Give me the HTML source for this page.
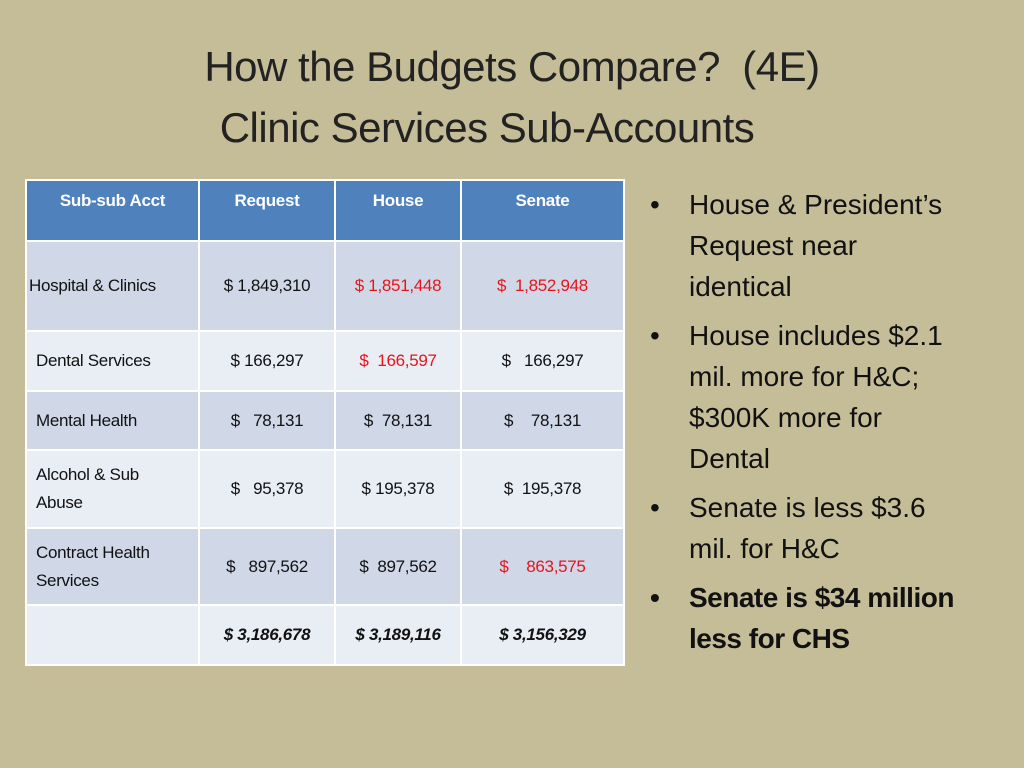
<!DOCTYPE html>
<html><head><meta charset="utf-8"><style>
body{margin:0;width:1024px;height:768px;background:#c5bd97;font-family:"Liberation Sans",sans-serif;position:relative;overflow:hidden}
.t{position:absolute;left:0;width:1024px;text-align:center;color:#222;font-size:42px;letter-spacing:-0.5px}
table{position:absolute;left:25px;top:179px;border-collapse:collapse;font-size:17px;color:#111}
td{border:2px solid #fff;padding:0;text-align:center;letter-spacing:-0.3px}
td.l{text-align:left;padding-left:9px}
tr.h td{background:#4f81bd;color:#fff;font-weight:bold;vertical-align:top;padding-top:10px;font-size:17px}
tr.a td{background:#d0d8e8}
tr.b td{background:#e9edf4}
.r{color:#e8141c}
.tot td{font-weight:bold;font-style:italic}
ul{position:absolute;left:650px;top:184px;margin:0;padding:0;list-style:none;width:370px;font-size:28px;line-height:41px;color:#111;white-space:nowrap}
li{position:relative;padding-left:39px;margin-bottom:8px}
li:before{content:"•";position:absolute;left:0}
</style></head><body>
<div class="t" style="top:43px">How the Budgets Compare?&nbsp; (4E)</div>
<div class="t" style="top:104px;left:-25px">Clinic Services Sub-Accounts</div>
<table>
<colgroup><col style="width:173px"><col style="width:136px"><col style="width:126px"><col style="width:163px"></colgroup>
<tr class="h" style="height:61px"><td>Sub-sub Acct</td><td>Request</td><td>House</td><td>Senate</td></tr>
<tr class="a" style="height:90px"><td style="font-size:17px;padding-left:2px;text-align:left">Hospital &amp; Clinics</td><td>$ 1,849,310</td><td class="r">$ 1,851,448</td><td class="r">$&nbsp; 1,852,948</td></tr>
<tr class="b" style="height:60px"><td class="l">Dental Services</td><td>$ 166,297</td><td class="r">$&nbsp; 166,597</td><td>$&nbsp;&nbsp; 166,297</td></tr>
<tr class="a" style="height:59px"><td class="l">Mental Health</td><td>$&nbsp;&nbsp; 78,131</td><td>$&nbsp; 78,131</td><td>$&nbsp;&nbsp;&nbsp; 78,131</td></tr>
<tr class="b" style="height:78px"><td class="l" style="line-height:28px">Alcohol &amp; Sub<br>Abuse</td><td>$&nbsp;&nbsp; 95,378</td><td>$ 195,378</td><td>$&nbsp; 195,378</td></tr>
<tr class="a" style="height:77px"><td class="l" style="line-height:28px">Contract Health<br>Services</td><td>$&nbsp;&nbsp; 897,562</td><td>$&nbsp; 897,562</td><td class="r">$&nbsp;&nbsp;&nbsp; 863,575</td></tr>
<tr class="b tot" style="height:60px"><td></td><td>$ 3,186,678</td><td>$ 3,189,116</td><td>$ 3,156,329</td></tr>
</table>
<ul>
<li>House &amp; President’s<br>Request near<br>identical</li>
<li>House includes $2.1<br>mil. more for H&amp;C;<br>$300K more for<br>Dental</li>
<li>Senate is less $3.6<br>mil. for H&amp;C</li>
<li style="font-weight:bold;letter-spacing:-0.5px">Senate is $34 million<br>less for CHS</li>
</ul>
</body></html>
